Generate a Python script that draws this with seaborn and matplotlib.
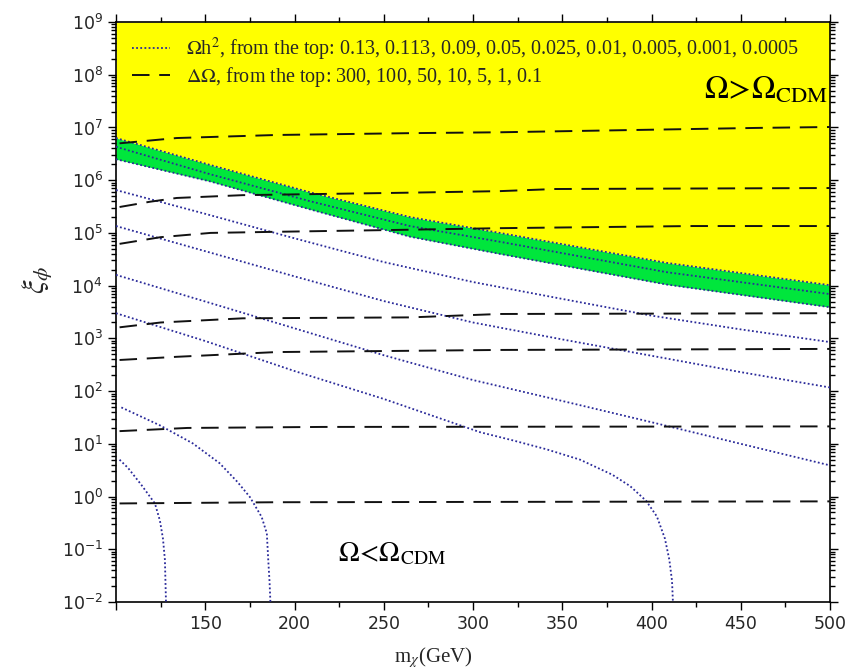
import numpy as np
import pandas as pd
import matplotlib
matplotlib.use("Agg")
import matplotlib.pyplot as plt
import seaborn as sns
from matplotlib.lines import Line2D
from matplotlib.ticker import FixedLocator, LogLocator, NullFormatter, FuncFormatter

# ---------------- data ----------------
# relic-density contours  Omega h^2  (m_chi in GeV, xi_phi)
m_0p13 = [100, 152.6, 208.6, 264.6, 315, 408.5, 500]
xi_0p13 = [6.3e6, 1.95e6, 5.9e5, 2.0e5, 1.0e5, 2.7e4, 1.02e4]
m_0p113 = [100, 152.6, 208.6, 264.6, 315, 408.5, 500]
xi_0p113 = [4.3e6, 1.3e6, 4.0e5, 1.35e5, 6.8e4, 1.8e4, 6.9e3]
m_0p09 = [100, 152.6, 208.6, 264.6, 315, 408.5, 500]
xi_0p09 = [2.5e6, 9.5e5, 2.8e5, 8.5e4, 4.0e4, 1.05e4, 3.9e3]
m_0p05 = [100, 150, 200, 250, 300, 350, 400, 450, 500]
xi_0p05 = [6.5e5, 2.3e5, 7.9e4, 2.8e4, 1.17e4, 5.6e3, 2.7e3, 1.48e3, 850]
m_0p025 = [100, 150, 200, 250, 300, 350, 400, 450, 500]
xi_0p025 = [1.35e5, 4.5e4, 1.5e4, 5.1e3, 2.0e3, 955, 468, 229, 117]
m_0p01 = [100, 150, 200, 250, 300, 350, 400, 450, 500]
xi_0p01 = [1.6e4, 5.0e3, 1.55e3, 479, 162, 65, 25.7, 10.0, 3.9]
m_0p005 = [100, 150, 200, 250, 304, 322, 341, 360, 378, 388, 397, 403, 407.5, 410, 411.5, 412]
xi_0p005 = [3.0e3, 890, 240, 71, 16.6, 11.7, 7.9, 5.0, 2.6, 1.58, 0.83, 0.42,
            0.16, 0.063, 0.025, 0.01]
m_0p001 = [103, 124.6, 143, 158, 168, 175, 181.6, 184.5, 185.3, 186, 186.5]
xi_0p001 = [49, 22.4, 10.2, 4.3, 1.9, 0.98, 0.41, 0.2, 0.062, 0.025, 0.01]
m_0p0005 = [102, 106.7, 114, 121.8, 124.6, 126.3, 127.4, 128]
xi_0p0005 = [5.0, 3.5, 1.7, 0.74, 0.35, 0.16, 0.063, 0.01]

# Delta-Omega contours
m_d300 = [102, 134, 190, 265, 315, 459, 500]
xi_d300 = [5.0e6, 6.3e6, 7.2e6, 7.8e6, 8.1e6, 9.8e6, 1.02e7]
m_d100 = [102, 119, 134, 171, 265, 315, 346, 500]
xi_d100 = [3.1e5, 3.9e5, 4.6e5, 5.2e5, 5.8e5, 6.2e5, 6.8e5, 7.1e5]
m_d50 = [102, 125, 153, 190, 265, 315, 423, 500]
xi_d50 = [6.2e4, 8.3e4, 1.0e5, 1.05e5, 1.15e5, 1.23e5, 1.35e5, 1.35e5]
m_d10 = [102, 125, 171, 265, 315, 500]
xi_d10 = [1.62e3, 2.0e3, 2.4e3, 2.5e3, 2.9e3, 3.0e3]
m_d5 = [102, 134, 190, 315, 500]
xi_d5 = [389, 447, 550, 603, 631]
m_d1 = [102, 140, 215, 500]
xi_d1 = [17.4, 20.0, 20.9, 21.4]
m_d01 = [102, 190, 500]
xi_d01 = [0.74, 0.78, 0.81]

omega_list = "0.13, 0.113, 0.09, 0.05, 0.025, 0.01, 0.005, 0.001, 0.0005"
delta_list = "300, 100, 50, 10, 5, 1, 0.1"
x_ticks = [150, 200, 250, 300, 350, 400, 450, 500]

# ---------------- style ----------------
sns.set_theme(style="white")
plt.rcParams["font.family"] = ["DejaVu Sans"]
plt.rcParams["mathtext.fontset"] = "stix"

fig = plt.figure(figsize=(8.56, 6.69), dpi=100)
ax = fig.add_axes([116/856, 1-602/669, (830-116)/856, (602-22)/669])
ax.set_yscale("log")
ax.set_xlim(100, 500)
ax.set_ylim(1e-2, 1e9)

YELLOW = "#ffff00"
GREEN = "#00e63c"
DOT = "#2a2a9a"

# regions
ax.fill_between(m_0p13, xi_0p13, 1e9, color=YELLOW, lw=0, zorder=0)
ax.fill_between(m_0p13, xi_0p09, xi_0p13, color=GREEN, lw=0, zorder=0)

dotted = [(m_0p13, xi_0p13), (m_0p113, xi_0p113), (m_0p09, xi_0p09),
          (m_0p05, xi_0p05), (m_0p025, xi_0p025), (m_0p01, xi_0p01),
          (m_0p005, xi_0p005), (m_0p001, xi_0p001), (m_0p0005, xi_0p0005)]
for mm, xx in dotted:
    sns.lineplot(x=mm, y=xx, ax=ax, color=DOT, lw=1.3, linestyle=(0, (1, 1.3)),
                 sort=False, estimator=None, zorder=3)

dashed = [(m_d300, xi_d300), (m_d100, xi_d100), (m_d50, xi_d50), (m_d10, xi_d10),
          (m_d5, xi_d5), (m_d1, xi_d1), (m_d01, xi_d01)]
for mm, xx in dashed:
    sns.lineplot(x=mm, y=xx, ax=ax, color="#111111", lw=1.4, linestyle=(0, (9, 5)),
                 sort=False, estimator=None, zorder=4)

# axes / ticks
ax.xaxis.set_major_locator(FixedLocator([100] + x_ticks))
ax.xaxis.set_minor_locator(FixedLocator([125, 175, 225, 275, 325, 375, 425, 475]))
ax.xaxis.set_major_formatter(FuncFormatter(lambda v, p: "" if v < 120 else f"{int(v)}"))
ax.yaxis.set_major_locator(LogLocator(base=10, numticks=20))
ax.yaxis.set_minor_locator(LogLocator(base=10, subs=np.arange(2, 10), numticks=20))
ax.yaxis.set_minor_formatter(NullFormatter())
ax.tick_params(which="both", direction="out", top=True, right=True, bottom=True, left=True,
               color="black", width=1.0)
ax.tick_params(which="major", length=6, labelsize=12.5)
ax.tick_params(which="minor", length=3.5)
for s in ax.spines.values():
    s.set_color("black")
    s.set_linewidth(1.2)

ax.set_xlabel(r"m$_\chi$(GeV)", fontsize=15, family="Liberation Serif")
ax.xaxis.set_label_coords(0.445, -0.075)
ax.set_ylabel(r"$\xi_\phi$", fontsize=22)
ax.yaxis.set_label_coords(-0.085, 0.555)

ax.text(0.997, 0.882, r"$\Omega\!>\!\Omega_{\rm CDM}$", transform=ax.transAxes,
        fontsize=23, ha="right", va="center", color="black")
ax.text(0.387, 0.084, r"$\Omega\!<\!\Omega_{\rm CDM}$", transform=ax.transAxes,
        fontsize=20, ha="center", va="center", color="black")

handles = [Line2D([], [], color=DOT, lw=1.3, linestyle=(0, (1, 1.3))),
           Line2D([], [], color="#111111", lw=1.4, linestyle=(0, (9, 5)))]
labels = [r"$\Omega$h$^2$, from the top: " + omega_list,
          r"$\Delta\Omega$, from the top: " + delta_list]
leg = ax.legend(handles, labels, loc="upper left", bbox_to_anchor=(0.0, 1.004),
                frameon=False, prop={"family": "Liberation Serif", "size": 14.5},
                handlelength=1.9, handletextpad=0.8, labelspacing=0.12, borderpad=0.3)

fig.savefig("out.png", dpi=100)
